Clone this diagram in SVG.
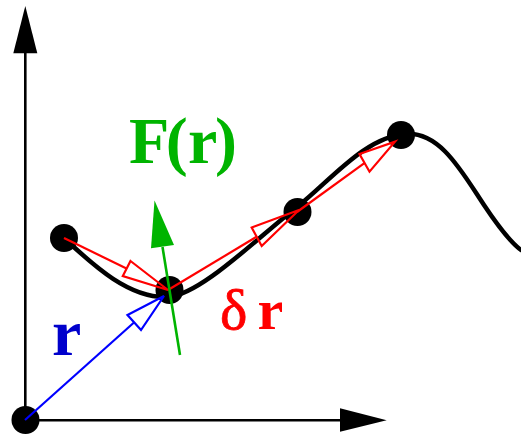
<svg xmlns="http://www.w3.org/2000/svg" width="521" height="435" viewBox="0 0 521 435">
<style>
.axis{stroke:#000;stroke-width:2.6;fill:none}
.head{fill:#000;stroke:none}
.curve{stroke:#000;stroke-width:4.5;fill:none;stroke-linecap:round}
.dot{fill:#000}
.red{stroke:#ff0000;stroke-width:2.2;fill:none}
.blue{stroke:#0000ff;stroke-width:2.2;fill:none}
.green{stroke:#00b400;stroke-width:2.6;fill:none}
.lbl{font-family:"Liberation Serif","Times New Roman",serif;font-weight:bold}
</style>
<rect width="521" height="435" fill="#fff"/>
<g id="axes">
<line class="axis" x1="25.3" y1="420" x2="25.3" y2="50"/>
<polygon class="head" points="25.3,6 13.3,53.3 37.3,53.3"/>
<line class="axis" x1="25" y1="420.3" x2="345" y2="420.3"/>
<polygon class="head" points="386.7,420.3 340,408.3 340,431.7"/>
</g>
<g id="curve">
<path class="curve" d="M64,238 C90,262 128,299 168,297 C200,295 255,240 297,207 C330,181 365,137 405,134 C440,131 462,172 484,205 C498,226 510,242 521,250"/>
</g>
<g id="points">
<circle id="origin" class="dot" cx="25.5" cy="420" r="14"/>
<circle id="p1" class="dot" cx="64" cy="238" r="14"/>
<circle id="p2" class="dot" cx="169.5" cy="290" r="14"/>
<circle id="p3" class="dot" cx="297.5" cy="212" r="14"/>
<circle id="p4" class="dot" cx="401" cy="135" r="14"/>
</g>
<g id="connectors">
<line class="blue" x1="25" y1="420" x2="134" y2="322.5"/>
<polygon class="blue" points="127.5,315 164,296 141,330"/>
<line class="red" x1="64" y1="238" x2="126.5" y2="268.5"/>
<polygon class="red" points="130.5,261 168,290 122.8,276"/>
<line class="red" x1="168" y1="290" x2="256.7" y2="236.7"/>
<polygon class="red" points="251.7,227.5 299,210 261.7,246"/>
<line class="red" x1="297" y1="212" x2="364.7" y2="162.8"/>
<polygon class="red" points="359.5,154 395,141.7 369.5,171.7"/>
<line class="green" x1="180" y1="355" x2="162.5" y2="247"/>
<polygon points="151,248.3 154.5,200.5 174,245" fill="#00b400"/>
</g>
<g id="labels">
<text class="lbl" font-size="66" fill="#00b400" x="129" y="163" dx="0 -3.7 0.4 -2.3">F(r)</text>
<text class="lbl" font-size="66" fill="#0000cc" x="52" y="355">r</text>
<text class="lbl" font-size="58" fill="#ff0000" x="220" y="329"><tspan font-weight="normal" stroke="#ff0000" stroke-width="0.8">δ</tspan><tspan x="257.5">r</tspan></text>
</g>
</svg>
